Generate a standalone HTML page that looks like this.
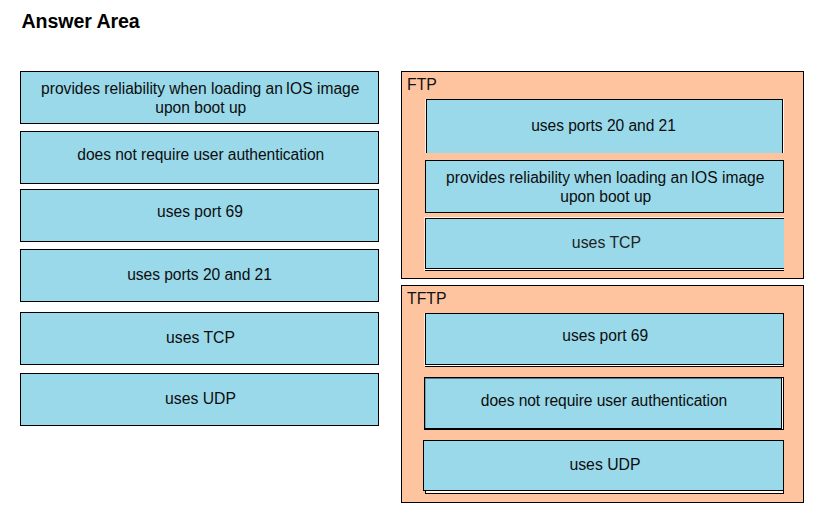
<!DOCTYPE html>
<html><head><meta charset="utf-8"><title>Answer Area</title>
<style>
html,body{margin:0;padding:0;background:#fff;}
body{width:821px;height:530px;position:relative;overflow:hidden;font-family:"Liberation Sans",Arial,sans-serif;color:#0d0d0d;}
.title{position:absolute;left:21.5px;top:10px;font-size:19.6px;letter-spacing:-0.08px;font-weight:bold;line-height:22px;color:#000;white-space:nowrap;}
.panel{position:absolute;background:#fec4a0;border:1px solid #000;box-sizing:border-box;}
.lbl{position:absolute;font-size:15.8px;line-height:18px;white-space:nowrap;color:#111;}
.box{position:absolute;background:#99d9ea;border:1px solid #000;box-sizing:border-box;}
.t{position:absolute;left:0;right:0;text-align:center;font-size:15.6px;line-height:19px;white-space:nowrap;color:#0d0d0d;}
.nar{margin-left:-1.5px;}
.ln{position:absolute;background:#000;}
.w{position:absolute;background:#fff;}
</style></head><body>
<div class="title">Answer Area</div>

<!-- left column -->
<div class="box" style="left:20px;top:71px;width:359px;height:53px;"><div class="t" style="top:7px;left:1.5px;">provides reliability when loading an<span class="nar"> IOS</span> image<br><span style="position:relative;left:.5px">upon boot up</span></div></div>
<div class="box" style="left:20px;top:131px;width:359px;height:53px;"><div class="t" style="top:13px;left:2.5px;letter-spacing:-0.055px;">does not require user authentication</div></div>
<div class="box" style="left:20px;top:189px;width:359px;height:53px;"><div class="t" style="top:12px;left:1px;">uses port 69</div></div>
<div class="box" style="left:20px;top:249px;width:359px;height:53px;"><div class="t" style="top:15px;left:0;letter-spacing:-0.05px;">uses ports 20 and 21</div></div>
<div class="box" style="left:20px;top:312px;width:359px;height:53px;"><div class="t" style="top:15px;left:2px;font-size:15.75px;">uses TCP</div></div>
<div class="box" style="left:20px;top:373px;width:359px;height:53px;"><div class="t" style="top:15px;left:2px;font-size:15.75px;">uses UDP</div></div>

<!-- FTP panel -->
<div class="panel" style="left:401px;top:71px;width:403px;height:208px;"></div>
<div class="lbl" style="left:407px;top:76px;">FTP</div>
<div class="w" style="left:425px;top:99px;width:1px;height:54px;opacity:.7;"></div>
<div class="box" style="left:426px;top:99px;width:357px;height:54px;border-bottom:none;"><div class="t" style="top:16px;left:-2px;letter-spacing:-0.05px;">uses ports 20 and 21</div></div>
<div class="w" style="left:783px;top:99px;width:1px;height:54px;opacity:.85;"></div>
<div class="box" style="left:425px;top:160px;width:359px;height:53px;"><div class="t" style="top:7px;left:1.5px;">provides reliability when loading an<span class="nar"> IOS</span> image<br><span style="position:relative;left:.5px">upon boot up</span></div></div>
<div class="w" style="left:424px;top:217px;width:360px;height:1px;opacity:.8;"></div>
<div class="w" style="left:424px;top:218px;width:1px;height:53px;opacity:.6;"></div>
<div class="box" style="left:425px;top:218px;width:359px;height:51px;border-right:none;"><div class="t" style="top:14px;left:3px;font-size:15.85px;color:#222;">uses TCP</div></div>
<div class="w" style="left:425px;top:269px;width:359px;height:1px;"></div>
<div class="ln" style="left:425px;top:270px;width:359px;height:1px;"></div>

<!-- TFTP panel -->
<div class="panel" style="left:401px;top:285px;width:403px;height:218px;"></div>
<div class="lbl" style="left:407px;top:290px;">TFTP</div>
<div class="w" style="left:424px;top:313px;width:1px;height:53px;opacity:.6;"></div>
<div class="box" style="left:425px;top:313px;width:359px;height:52px;"><div class="t" style="top:12px;left:1.5px;">uses port 69</div></div>
<div class="ln" style="left:783px;top:365px;width:1px;height:2px;"></div><div class="w" style="left:425px;top:365px;width:358px;height:1px;"></div>
<div class="ln" style="left:425px;top:366px;width:359px;height:1px;"></div>

<div class="box" style="left:424px;top:377px;width:360px;height:53px;border-bottom-width:2px;"><div class="t" style="top:13px;left:0px;letter-spacing:-0.07px;">does not require user authentication</div></div>
<div class="ln" style="left:425px;top:378px;width:357px;height:1px;opacity:.45;"></div>
<div class="ln" style="left:425px;top:379px;width:1px;height:49px;opacity:.25;"></div>
<div class="ln" style="left:781px;top:378px;width:1px;height:50px;"></div>
<div class="w" style="left:782px;top:378px;width:1px;height:51px;"></div>

<div class="box" style="left:423px;top:440px;width:361px;height:51px;"><div class="t" style="top:14px;left:3px;font-size:15.8px;">uses UDP</div></div>
<div class="ln" style="left:425px;top:491px;width:359px;height:3px;"></div>
<div class="w" style="left:426px;top:491px;width:357px;height:2px;background:#fffbe8;"></div>
</body></html>
